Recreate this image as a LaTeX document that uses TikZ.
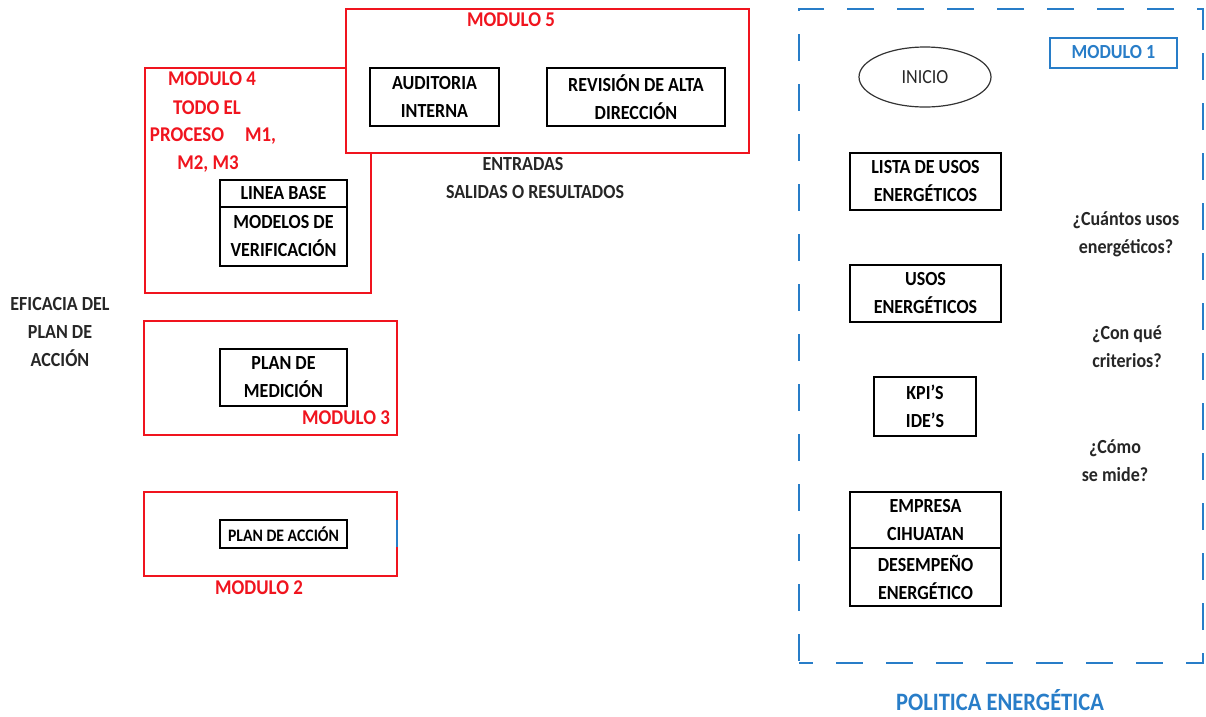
\documentclass[tikz,border=0pt]{standalone}
\usepackage{fontspec}
\setmainfont{Carlito}[FakeStretch=0.9]
\usetikzlibrary{shapes.geometric}
\definecolor{modred}{RGB}{240,20,30}
\definecolor{modblue}{RGB}{40,125,200}
\tikzset{
  every node/.style={inner sep=0pt, outer sep=0pt, font=\fontsize{20}{28}\selectfont\bfseries, align=center},
  redbox/.style={draw=modred, line width=2.6pt},
  blkbox/.style={draw=black, line width=2.4pt},
  thinbox/.style={draw=black, line width=1.4pt},
  redlbl/.style={text=modred, font=\fontsize{21}{28}\selectfont\bfseries},
  txt/.style={text=black!85},
}
\begin{document}
\begin{tikzpicture}[x=1pt,y=-1pt]
\useasboundingbox (0,0) rectangle (1206,716);
% Module 4
\node[redbox, minimum width=226pt, minimum height=225pt] (m4) at (258,180.5) {};
% Module 5 (over module 4)
\node[redbox, fill=white, minimum width=403pt, minimum height=144pt] (m5) at (547.5,81) {};
\node[redlbl] (m5l) at (511,20) {MODULO 5};
\node[blkbox, minimum width=129pt, minimum height=58pt] (aud) at (434.5,97) {AUDITORIA\\INTERNA};
\node[blkbox, minimum width=178pt, minimum height=58pt] (rev) at (636,97) {REVISIÓN DE ALTA\\DIRECCIÓN};
% Module 4 labels
\node[redlbl] (m4l) at (212,79) {MODULO 4};
\node[redlbl] (m4a) at (207,108) {TODO EL};
\node[redlbl] (m4b) at (213,136) {PROCESO\quad M1,};
\node[redlbl] (m4c) at (208,164) {M2, M3};
\node[blkbox, minimum width=127pt, minimum height=27pt] (lb) at (283.5,193.5) {LINEA BASE};
\node[blkbox, minimum width=127pt, minimum height=59pt] (mv) at (283.5,236.5) {MODELOS DE\\VERIFICACIÓN};
% entradas
\node[txt] (ent) at (523,164) {ENTRADAS};
\node[txt] (sal) at (535,192) {SALIDAS O RESULTADOS};
% eficacia
\node[txt] (efi) at (60,332) {EFICACIA DEL\\PLAN DE\\ACCIÓN};
% Module 3
\node[redbox, minimum width=253pt, minimum height=114pt] (m3) at (270.5,378) {};
\node[blkbox, minimum width=127pt, minimum height=57pt] (pm) at (283.5,377.5) {PLAN DE\\MEDICIÓN};
\node[redlbl] (m3l) at (346,418) {MODULO 3};
% Module 2
\node[redbox, minimum width=253pt, minimum height=84pt] (m2) at (270.5,534) {};
\coordinate (bl1) at (397,520);
\coordinate (bl2) at (397,547);
\draw[modblue, line width=2.6pt] (bl1) -- (bl2);
\node[blkbox, minimum width=127pt, minimum height=28pt, font=\fontsize{17.5}{20}\selectfont\bfseries] (pa) at (283.5,534) {PLAN DE ACCIÓN};
\node[redlbl] (m2l) at (259,588) {MODULO 2};
% Module 1
\node[draw=modblue, line width=2.6pt, dash pattern=on 27pt off 23pt, dash phase=13pt, minimum width=404pt, minimum height=654pt] (m1) at (1001,336) {};
\node[draw=modblue, line width=2pt, minimum width=127pt, minimum height=30pt, text=modblue] (m1l) at (1113.5,53) {\raisebox{3pt}{MODULO 1}};
\node[ellipse, draw=black!80, line width=1.2pt, minimum width=132pt, minimum height=60pt, txt, font=\fontsize{20}{28}\selectfont] (ini) at (925,77) {INICIO};
\node[blkbox, minimum width=151pt, minimum height=57pt] (lis) at (925.5,181.5) {LISTA DE USOS\\ENERGÉTICOS};
\node[blkbox, minimum width=151pt, minimum height=57pt] (uso) at (925.5,293.5) {USOS\\ENERGÉTICOS};
\node[blkbox, minimum width=102pt, minimum height=59pt] (kpi) at (925,406.5) {KPI'S\\IDE'S};
\node[thinbox, minimum width=151pt, minimum height=56pt] (emp) at (925.5,520) {EMPRESA\\CIHUATAN};
\node[thinbox, minimum width=151pt, minimum height=58pt] (des) at (925.5,577) {DESEMPEÑO\\ENERGÉTICO};
\node[txt] (q1) at (1126,234) {¿Cuántos usos\\energéticos?};
\node[txt] (q2) at (1127,347) {¿Con qué\\criterios?};
\node[txt] (q3) at (1115,461) {¿Cómo\\se mide?};
\node[text=modblue, font=\fontsize{25}{28}\selectfont\bfseries] (pol) at (1000,700) {POLITICA ENERGÉTICA};
\end{tikzpicture}
\end{document}
